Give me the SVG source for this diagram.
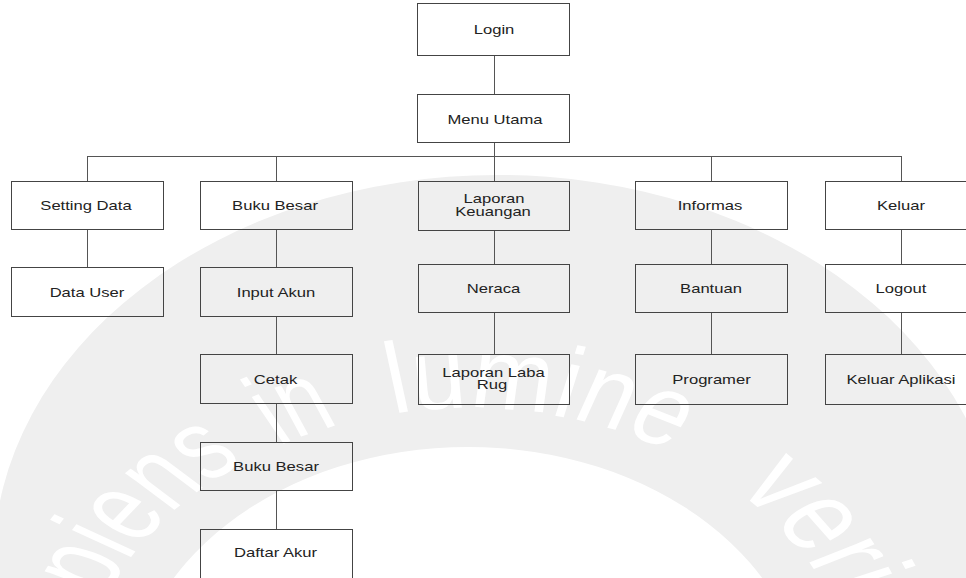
<svg xmlns="http://www.w3.org/2000/svg" xmlns:xlink="http://www.w3.org/1999/xlink" width="966" height="578" viewBox="0 0 966 578">
  <style>
    .box { fill: none; stroke: #444; stroke-width: 1; }
    .link { fill: none; stroke: #555; stroke-width: 1; }
    .lbl { font-family: "Liberation Sans", Arial, sans-serif; font-size: 12.5px; fill: #222; text-anchor: middle; }
    .mark { font-family: "Liberation Sans", Arial, sans-serif; font-size: 100px; fill: #ffffff; }
  </style>
  <defs>
    <path id="ring" d="M360,1008 A300,300 0 1,1 360,408 A300,300 0 1,1 360,1008"/>
  </defs>
  <rect width="966" height="578" fill="#ffffff"/>

  <!-- faint background seal -->
  <g id="seal" transform="scale(1.3 1)">
    <path fill="#efefef" fill-rule="evenodd" d="M-5,563 a388,388 0 1,0 776,0 a388,388 0 1,0 -776,0 Z M99,708 a261,261 0 1,0 522,0 a261,261 0 1,0 -522,0 Z"/>
    <text class="mark"><textPath xlink:href="#ring" startOffset="505" textLength="255" lengthAdjust="spacingAndGlyphs">sapiens</textPath></text>
    <text class="mark"><textPath xlink:href="#ring" startOffset="790" textLength="52" lengthAdjust="spacingAndGlyphs">in</textPath></text>
    <text class="mark"><textPath xlink:href="#ring" startOffset="884" textLength="221" lengthAdjust="spacingAndGlyphs">lumine</textPath></text>
    <text class="mark"><textPath xlink:href="#ring" startOffset="1168" textLength="245" lengthAdjust="spacingAndGlyphs">veritas</textPath></text>
  </g>

  <!-- connectors -->
  <g id="connectors" class="link">
    <line x1="494.5" y1="56" x2="494.5" y2="94"/>
    <line x1="494.5" y1="143" x2="494.5" y2="156"/>
    <line x1="87" y1="156.5" x2="901" y2="156.5"/>
    <line x1="87.5" y1="156" x2="87.5" y2="181"/>
    <line x1="276.5" y1="156" x2="276.5" y2="181"/>
    <line x1="494.5" y1="156" x2="494.5" y2="181"/>
    <line x1="711.5" y1="156" x2="711.5" y2="181"/>
    <line x1="901.5" y1="156" x2="901.5" y2="181"/>
    <line x1="87.5" y1="230" x2="87.5" y2="267"/>
    <line x1="276.5" y1="230" x2="276.5" y2="267"/>
    <line x1="276.5" y1="317" x2="276.5" y2="354"/>
    <line x1="276.5" y1="404" x2="276.5" y2="442"/>
    <line x1="276.5" y1="491" x2="276.5" y2="529"/>
    <line x1="494.5" y1="231" x2="494.5" y2="264"/>
    <line x1="494.5" y1="313" x2="494.5" y2="354"/>
    <line x1="711.5" y1="230" x2="711.5" y2="264"/>
    <line x1="711.5" y1="313" x2="711.5" y2="354"/>
    <line x1="901.5" y1="230" x2="901.5" y2="264"/>
    <line x1="901.5" y1="313" x2="901.5" y2="354"/>
  </g>

  <!-- top -->
  <g id="login">
    <rect class="box" x="417.5" y="3.5" width="152" height="52"/>
    <text class="lbl" transform="translate(494 34) scale(1.33 1)">Login</text>
  </g>
  <g id="menu-utama">
    <rect class="box" x="417.5" y="94.5" width="152" height="48"/>
    <text class="lbl" transform="translate(495 123.5) scale(1.33 1)">Menu Utama</text>
  </g>

  <!-- Setting Data branch -->
  <g id="setting-data">
    <rect class="box" x="11.5" y="181.5" width="152" height="48"/>
    <text class="lbl" transform="translate(86 210) scale(1.33 1)">Setting Data</text>
  </g>
  <g id="data-user">
    <rect class="box" x="11.5" y="267.5" width="152" height="49"/>
    <text class="lbl" transform="translate(87 296.5) scale(1.33 1)">Data User</text>
  </g>

  <!-- Buku Besar branch -->
  <g id="buku-besar">
    <rect class="box" x="200.5" y="181.5" width="152" height="48"/>
    <text class="lbl" transform="translate(275 210) scale(1.33 1)">Buku Besar</text>
  </g>
  <g id="input-akun">
    <rect class="box" x="200.5" y="267.5" width="152" height="49"/>
    <text class="lbl" transform="translate(276 296.5) scale(1.33 1)">Input Akun</text>
  </g>
  <g id="cetak">
    <rect class="box" x="200.5" y="354.5" width="152" height="49"/>
    <text class="lbl" transform="translate(275.5 383.5) scale(1.33 1)">Cetak</text>
  </g>
  <g id="buku-besar-cetak">
    <rect class="box" x="200.5" y="442.5" width="152" height="48"/>
    <text class="lbl" transform="translate(276 471) scale(1.33 1)">Buku Besar</text>
  </g>
  <g id="daftar-akun">
    <rect class="box" x="200.5" y="529.5" width="152" height="60"/>
    <text class="lbl" transform="translate(275.5 557) scale(1.33 1)">Daftar Akur</text>
  </g>

  <!-- Laporan Keuangan branch -->
  <g id="laporan-keuangan">
    <rect class="box" x="418.5" y="181.5" width="151" height="49"/>
    <text class="lbl" transform="translate(494 202.5) scale(1.33 1)">Laporan</text>
    <text class="lbl" transform="translate(493 215.5) scale(1.33 1)">Keuangan</text>
  </g>
  <g id="neraca">
    <rect class="box" x="418.5" y="264.5" width="151" height="48"/>
    <text class="lbl" transform="translate(493.5 293) scale(1.33 1)">Neraca</text>
  </g>
  <g id="laporan-laba-rugi">
    <rect class="box" x="418.5" y="354.5" width="151" height="50"/>
    <text class="lbl" transform="translate(493.5 376.5) scale(1.33 1)">Laporan Laba</text>
    <text class="lbl" transform="translate(492 388.5) scale(1.33 1)">Rug</text>
  </g>

  <!-- Informasi branch -->
  <g id="informasi">
    <rect class="box" x="635.5" y="181.5" width="152" height="48"/>
    <text class="lbl" transform="translate(710 210) scale(1.33 1)">Informas</text>
  </g>
  <g id="bantuan">
    <rect class="box" x="635.5" y="264.5" width="152" height="48"/>
    <text class="lbl" transform="translate(711 293) scale(1.33 1)">Bantuan</text>
  </g>
  <g id="programer">
    <rect class="box" x="635.5" y="354.5" width="152" height="50"/>
    <text class="lbl" transform="translate(711.5 383.5) scale(1.33 1)">Programer</text>
  </g>

  <!-- Keluar branch -->
  <g id="keluar">
    <rect class="box" x="825.5" y="181.5" width="152" height="48"/>
    <text class="lbl" transform="translate(901 210) scale(1.33 1)">Keluar</text>
  </g>
  <g id="logout">
    <rect class="box" x="825.5" y="264.5" width="152" height="48"/>
    <text class="lbl" transform="translate(901 293) scale(1.33 1)">Logout</text>
  </g>
  <g id="keluar-aplikasi">
    <rect class="box" x="825.5" y="354.5" width="152" height="50"/>
    <text class="lbl" transform="translate(901 383.5) scale(1.33 1)">Keluar Aplikasi</text>
  </g>
</svg>
